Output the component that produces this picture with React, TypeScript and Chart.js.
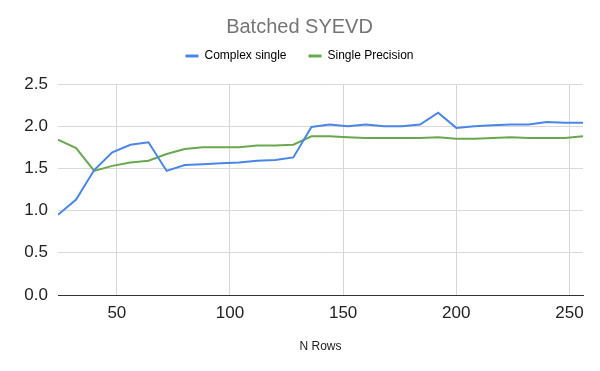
import React, { useEffect, useRef } from "react";
import { Chart, registerables } from "chart.js";

Chart.register(...registerables);

const chartTitle = "Batched SYEVD";
const xAxisTitle = "N Rows";
const nRows = [24, 32, 40, 48, 56, 64, 72, 80, 88, 96, 104, 112, 120, 128, 136, 144, 152, 160, 168, 176, 184, 192, 200, 208, 216, 224, 232, 240, 248, 256];
const complexSingle = [0.95, 1.13, 1.48, 1.69, 1.78, 1.81, 1.47, 1.54, 1.55, 1.56, 1.57, 1.59, 1.6, 1.63, 1.99, 2.02, 2.0, 2.02, 2.0, 2.0, 2.02, 2.16, 1.98, 2.0, 2.01, 2.02, 2.02, 2.05, 2.04, 2.04];
const singlePrecision = [1.84, 1.74, 1.47, 1.53, 1.57, 1.59, 1.67, 1.73, 1.75, 1.75, 1.75, 1.77, 1.77, 1.78, 1.88, 1.88, 1.87, 1.86, 1.86, 1.86, 1.86, 1.87, 1.85, 1.85, 1.86, 1.87, 1.86, 1.86, 1.86, 1.88];
const seriesNames = ["Complex single", "Single Precision"];
const seriesColors = ["#4a86e8", "#6aa84f"];
const yTicks = [0, 0.5, 1.0, 1.5, 2.0, 2.5];
const xTicks = [50, 100, 150, 200, 250];

const FONT = "'Liberation Sans', Arial, Helvetica, sans-serif";

export default function App() {
  const ref = useRef<HTMLCanvasElement | null>(null);

  useEffect(() => {
    if (!ref.current) return;
    Chart.defaults.font.family = FONT;

    const headerNudge = {
      id: "headerNudge",
      afterLayout(chart: any) {
        const dx = 8;
        const dy = -12;
        if (chart.titleBlock) {
          chart.titleBlock.left += dx;
          chart.titleBlock.right += dx;
        }
        if (chart.legend) {
          chart.legend.left += dx;
          chart.legend.right += dx;
          chart.legend.top += dy;
          chart.legend.bottom += dy;
        }
      },
    };

    const makeData = (vals: number[]) => nRows.map((x, i) => ({ x, y: vals[i] }));

    const chart = new Chart(ref.current, {
      type: "line",
      data: {
        datasets: [complexSingle, singlePrecision].map((vals, i) => ({
          label: seriesNames[i],
          data: makeData(vals),
          borderColor: seriesColors[i],
          backgroundColor: seriesColors[i],
          borderWidth: 2,
          pointRadius: 0,
          tension: 0,
          fill: false,
        })),
      },
      options: {
        responsive: false,
        animation: false,
        layout: { padding: { left: 0, right: 17, top: 0, bottom: 0 } },
        plugins: {
          title: {
            display: true,
            text: chartTitle,
            color: "#757575",
            font: { size: 20, weight: "normal", family: FONT },
            padding: { top: 15, bottom: 1 },
          },
          legend: {
            display: true,
            position: "top",
            labels: {
              boxWidth: 13,
              boxHeight: 3,
              padding: 22,
              color: "#222222",
              font: { size: 12, family: FONT },
              generateLabels(chart: any) {
                return chart.data.datasets.map((ds: any, i: number) => ({
                  text: ds.label,
                  fillStyle: ds.borderColor,
                  strokeStyle: ds.borderColor,
                  lineWidth: 0,
                  hidden: false,
                  datasetIndex: i,
                }));
              },
            },
          },
          tooltip: { enabled: false },
        },
        scales: {
          x: {
            type: "linear",
            min: nRows[0],
            max: nRows[nRows.length - 1],
            afterBuildTicks(scale: any) {
              scale.ticks = xTicks.map((v) => ({ value: v }));
            },
            afterFit(scale: any) {
              scale.height = 76;
            },
            grid: { color: "#d6d6d6", lineWidth: 1, drawTicks: false },
            border: { display: true, color: "#333333", width: 1 },
            title: {
              display: true,
              text: xAxisTitle,
              color: "#222222",
              font: { size: 12, family: FONT },
              padding: { top: 0, bottom: 17 },
            },
            ticks: {
              color: "#222222",
              font: { size: 17, family: FONT },
              padding: 8,
              maxRotation: 0,
              autoSkip: false,
            },
          },
          y: {
            type: "linear",
            min: 0,
            max: 2.5,
            afterBuildTicks(scale: any) {
              scale.ticks = yTicks.map((v) => ({ value: v }));
            },
            afterFit(scale: any) {
              scale.width = 58;
            },
            grid: { color: "#d9d9d9", lineWidth: 1, drawTicks: false },
            border: { display: false },
            ticks: {
              color: "#222222",
              font: { size: 17, family: FONT },
              padding: 10,
              callback: (v: any) => Number(v).toFixed(1),
            },
          },
        },
      },
      plugins: [headerNudge],
    } as any);

    return () => chart.destroy();
  }, []);

  return (
    <div style={{ position: "fixed", left: 0, top: 0, width: 600, height: 371, background: "#ffffff" }}>
      <canvas ref={ref} width={600} height={371} />
    </div>
  );
}
